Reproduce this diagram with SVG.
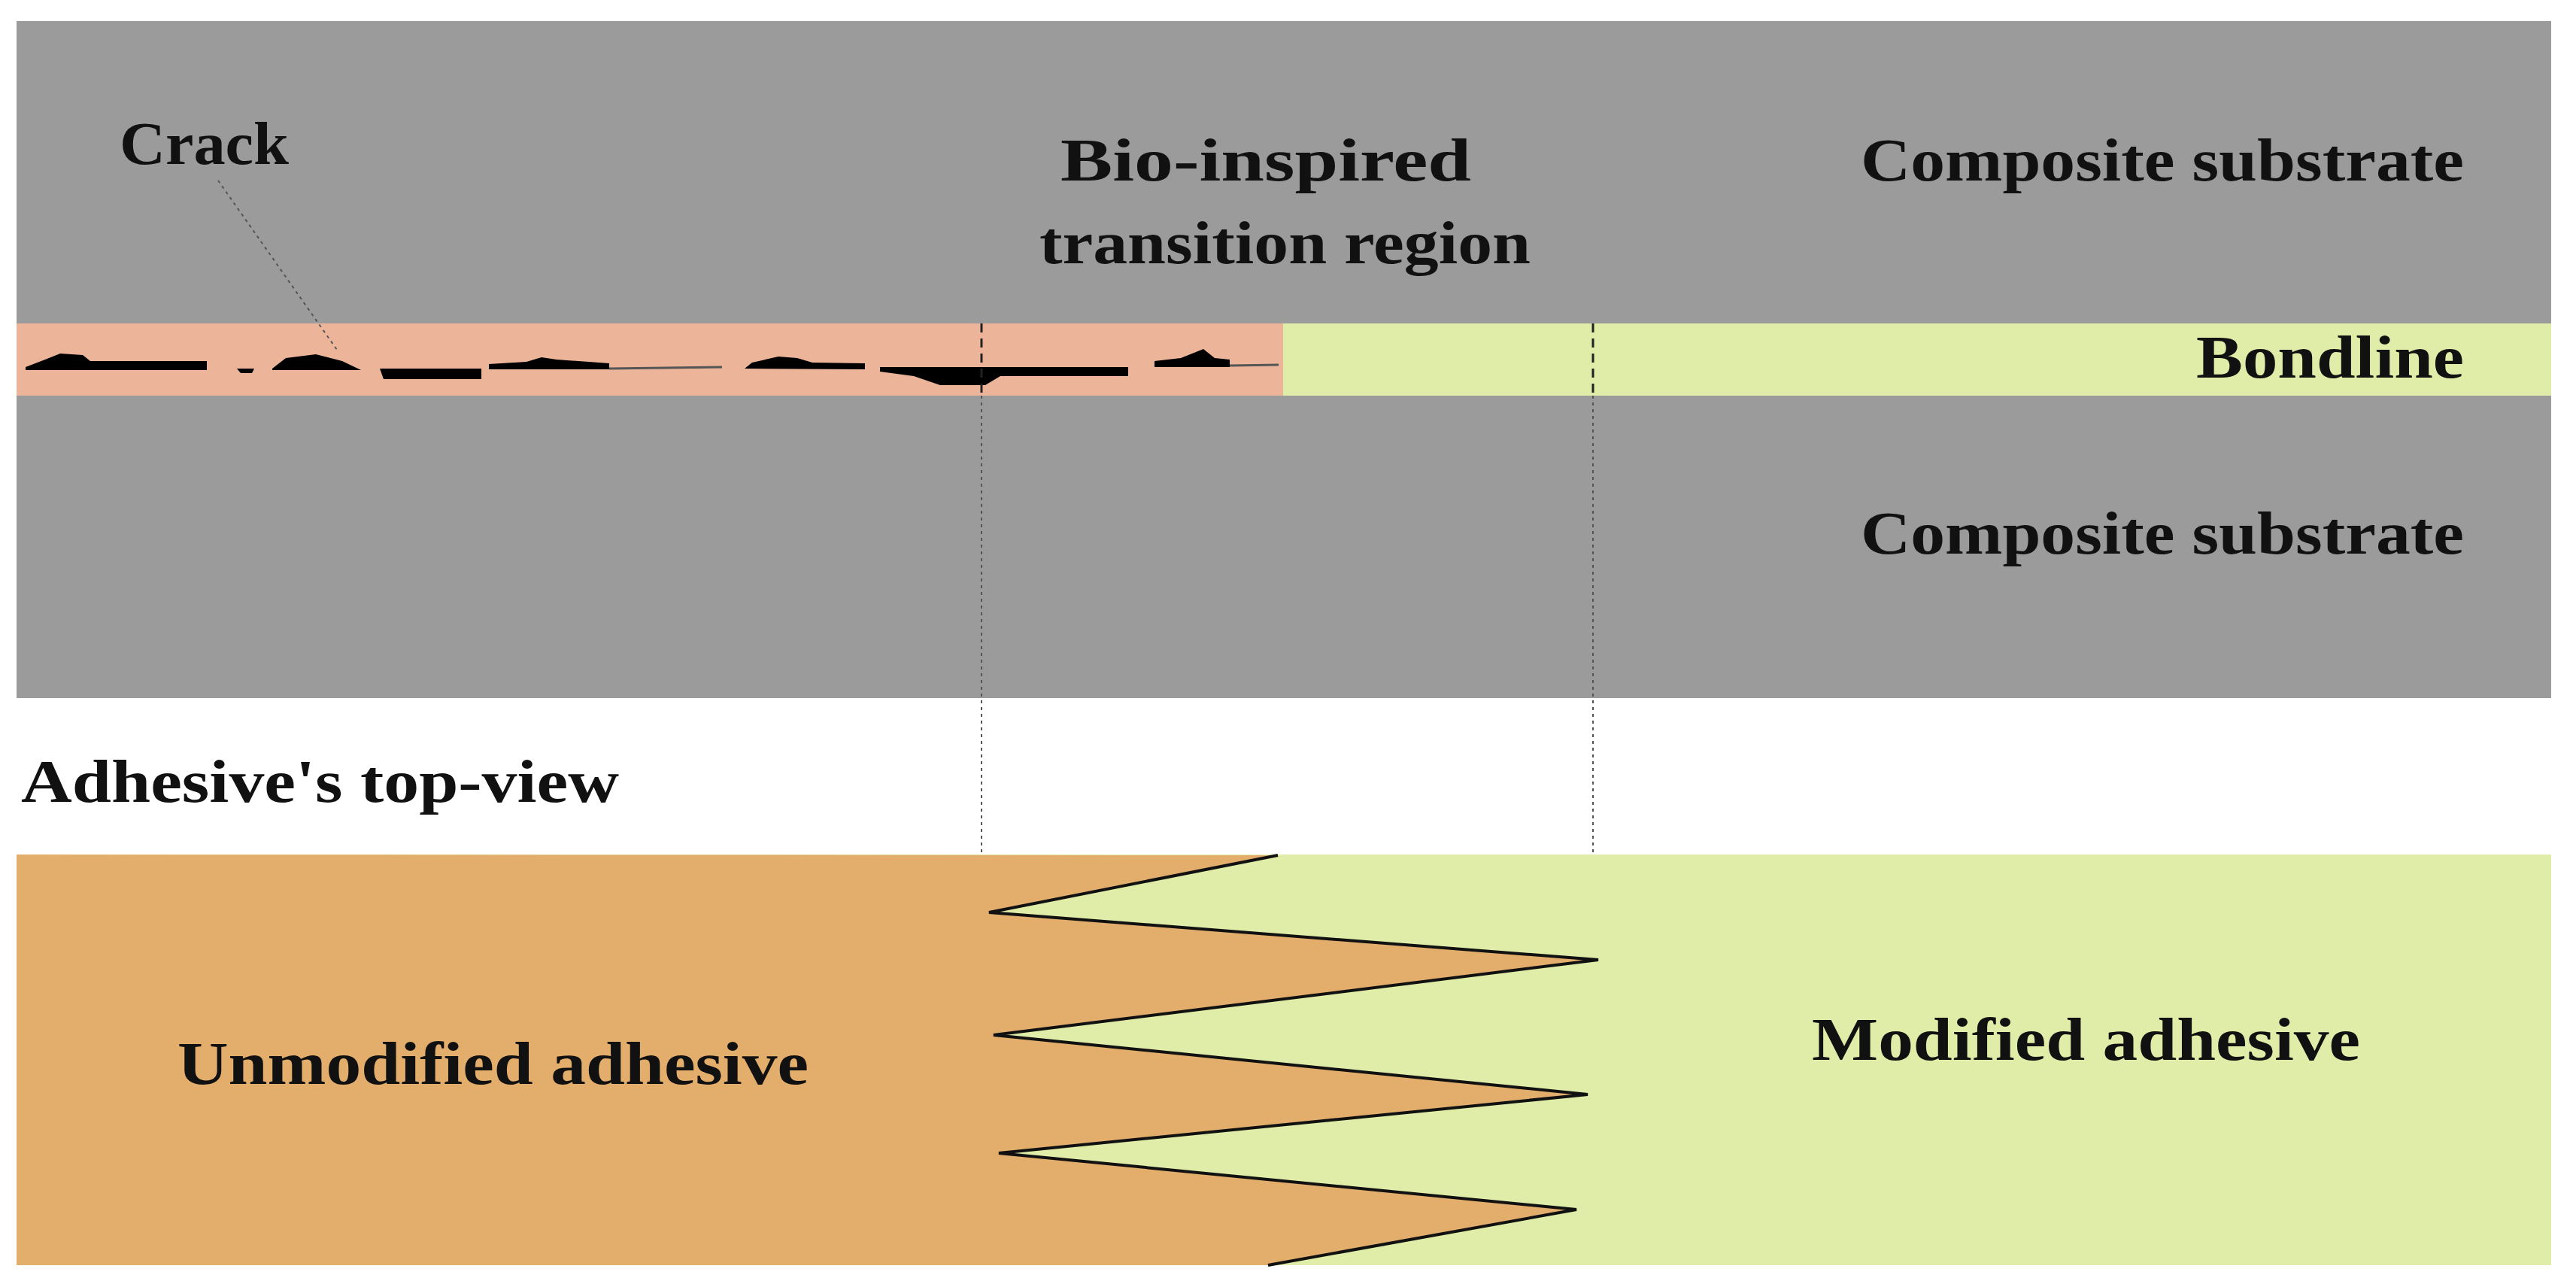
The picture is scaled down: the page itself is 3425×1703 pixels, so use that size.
<svg xmlns="http://www.w3.org/2000/svg" width="3425" height="1703" viewBox="0 0 3425 1703">
<style>
text{font-family:"Liberation Serif","DejaVu Serif",serif;font-weight:bold;font-size:80px;fill:#111}
.dash{stroke:#222;stroke-width:3;stroke-dasharray:12 8;fill:none}
.dot{stroke:#555;stroke-width:2;stroke-dasharray:4 5;fill:none}
</style>
<rect width="3425" height="1703" fill="#fff"/>
<g id="top-substrate"><rect x="22" y="28" width="3370" height="402" fill="#9b9b9b"/>
<text x="2474" y="240" textLength="802" lengthAdjust="spacingAndGlyphs">Composite substrate</text></g>
<g id="bondline">
<rect x="22" y="430" width="1684" height="96" fill="#ecb59a"/>
<rect x="1706" y="430" width="1686" height="96" fill="#e0eda8"/>
<text x="2920" y="502" textLength="356" lengthAdjust="spacingAndGlyphs">Bondline</text>
<path fill="#000" d="M34,488 L60,478 L80,470 L110,472 L120,480 L275,480 L275,492 L34,492 Z M315,490 L320,496 L335,496 L338,490 Z M362,490 L380,476 L420,471 L455,480 L480,492 L362,492 Z M505,490 L640,490 L640,504 L520,504 L510,504 Z M650,484 L700,481 L720,475 L740,478 L810,483 L810,491 L650,491 Z M990,490 L1000,482 L1035,474 L1060,476 L1080,482 L1150,483 L1150,491 Z M1170,488 L1500,488 L1500,500 L1330,500 L1310,512 L1250,512 L1215,500 L1170,494 Z M1535,480 L1570,476 L1600,464 L1615,476 L1635,478 L1635,488 L1535,488 Z"/>
<path d="M810,490 L960,488 M1635,486 L1700,485" stroke="#555" stroke-width="3"/>
</g>
<g id="bottom-substrate"><rect x="22" y="526" width="3370" height="402" fill="#9b9b9b"/>
<text x="2474" y="736" textLength="802" lengthAdjust="spacingAndGlyphs">Composite substrate</text></g>
<g id="labels">
<text x="159" y="218" textLength="225" lengthAdjust="spacingAndGlyphs">Crack</text>
<text x="1410" y="240" textLength="546" lengthAdjust="spacingAndGlyphs">Bio-inspired</text>
<text x="1382" y="350" textLength="653" lengthAdjust="spacingAndGlyphs">transition region</text>
<text x="28" y="1066" textLength="795" lengthAdjust="spacingAndGlyphs">Adhesive's top-view</text>
</g>
<g id="top-view">
<rect x="22" y="1136" width="3370" height="546" fill="#e0eda8"/>
<polygon points="22,1136 1699,1137 1315,1213 2125,1276 1321,1376 2111,1455 1328,1533 2096,1608 1686,1682 22,1682" fill="#e3ae6c"/>
<polyline points="1699,1137 1315,1213 2125,1276 1321,1376 2111,1455 1328,1533 2096,1608 1686,1682" fill="none" stroke="#111" stroke-width="4"/>
<text x="236" y="1441" textLength="839" lengthAdjust="spacingAndGlyphs">Unmodified adhesive</text>
<text x="2409" y="1409" textLength="729" lengthAdjust="spacingAndGlyphs">Modified adhesive</text>
</g>
<g id="connectors">
<path class="dash" d="M1305,430 V526 M2118,430 V526"/>
<path class="dot" d="M1305,526 V1136 M2118,526 V1136"/>
<path class="dot" stroke="#222" d="M290,240 L448,465"/>
</g>
</svg>
